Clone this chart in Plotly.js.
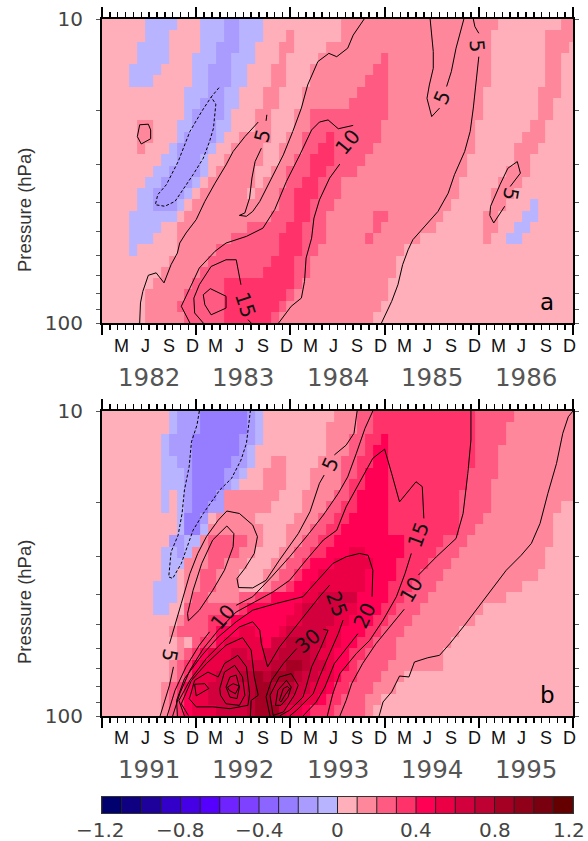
<!DOCTYPE html>
<html><head><meta charset="utf-8">
<script src="https://cdn.plot.ly/plotly-3.0.1.min.js"></script>
<style>html,body{margin:0;padding:0;background:#fff}</style></head>
<body><div id="chart" style="width:588px;height:841px"></div>
<script>
const binColors=['#00006e','#0f0082','#1e009b','#3200c8','#4600e6','#5500ff','#6e23ff','#7d41ff','#8c64ff','#967dff','#aa9bff','#b9b4ff','#ffafb9','#ff879b','#ff5a82','#ff3269','#ff0055','#eb0046','#d2003c','#be0032','#a50023','#910019','#78000f','#640000'];
const binEdges=[-1.2,-1.1,-1,-0.9,-0.8,-0.7,-0.6,-0.5,-0.4,-0.3,-0.2,-0.1,0,0.1,0.2,0.3,0.4,0.5,0.6,0.7,0.8,0.9,1,1.1,1.2];
const barTicks=[-1.2,-0.8,-0.4,0,0.4,0.8,1.2];
const barTickText=['\u22121.2','\u22120.8','\u22120.4','0','0.4','0.8','1.2'];
const pressureEdges=[10,10.89,11.86,12.92,14.07,15.33,16.68,18.17,19.79,21.56,23.48,25.57,27.85,30.34,33.04,35.98,39.19,42.68,46.48,50.62,55.13,60.04,65.39,71.22,77.56,84.47,92,100];
const pressureTicks=[10,20,30,40,50,60,70,80,90,100];
const pressureTickText=['10','','','','','','','','','100'];
const monthLabels=['M','J','S','D'];
const monthOffsets=[2.5,5.5,8.5,11.5];
const yearsA=['1982','1983','1984','1985','1986'];
const yearsB=['1991','1992','1993','1994','1995'];
// each row: bin:endColumn runs, bin n = value between (n-1)/10 and n/10, top row first
const fillA=[
"1:6 -1:10 1:13 -1:16 -2:18 -1:21 1:31 2:51 1:59 2:61",
"1:6 -1:9 1:13 -1:16 -2:18 -1:21 1:24 2:25 1:31 2:50 1:57 2:61",
"1:5 -1:9 1:13 -1:15 -2:18 -1:20 1:23 2:25 1:29 2:50 1:57 2:60 1:61",
"1:5 -1:9 1:12 -1:15 -2:17 -1:20 1:23 2:24 1:28 2:36 3:37 2:50 1:57 2:59 1:61",
"1:4 -1:8 1:12 -1:14 -2:17 -1:19 1:22 2:24 1:27 2:35 3:37 2:50 1:57 2:59 1:61",
"1:4 -1:7 1:12 -1:14 -2:17 -1:19 1:22 2:24 1:27 2:34 3:37 2:50 1:57 2:59 1:61",
"1:11 -1:14 -2:16 -1:18 1:21 2:23 1:26 2:33 3:37 2:49 1:56 2:59 1:61",
"1:11 -1:13 -2:16 -1:18 1:21 2:23 1:26 2:32 3:37 2:49 1:56 2:58 1:61",
"1:11 -1:12 -2:16 -1:17 1:20 2:22 1:25 2:27 3:37 2:49 1:56 2:58 1:61",
"1:5 2:7 1:10 -1:12 -2:15 -1:17 1:20 2:22 1:25 2:27 3:36 2:48 1:55 2:57 1:61",
"1:5 2:7 1:10 -1:11 -2:15 -1:16 1:18 2:22 1:24 2:26 3:29 4:30 3:36 2:48 1:54 2:57 1:61",
"1:5 2:6 1:9 -1:10 -2:14 -1:15 1:17 2:21 1:23 2:26 3:28 4:30 3:35 2:48 1:53 2:56 1:61",
"1:8 -1:10 -2:13 -1:14 1:16 2:21 1:23 2:25 3:27 4:30 3:34 2:47 1:53 2:55 1:61",
"1:7 -1:9 -2:13 -1:14 1:15 2:20 1:22 2:24 3:27 4:29 3:33 2:47 1:52 2:55 1:61",
"1:6 -1:8 -2:12 -1:13 1:14 2:20 1:21 2:24 3:26 4:28 3:31 2:46 1:51 2:54 1:61",
"1:5 -1:7 -2:11 -1:12 1:13 2:19 1:20 2:23 3:25 4:28 3:31 2:46 1:50 2:53 1:61",
"1:5 -1:7 -2:10 -1:11 1:12 2:23 3:25 4:27 3:30 2:45 1:50 2:52 1:55 -1:56 1:61",
"1:4 -1:10 1:11 2:22 3:25 4:27 3:29 2:35 3:37 2:44 1:49 2:51 1:54 -1:56 1:61",
"1:4 -1:8 1:10 2:19 3:24 4:26 3:29 2:35 3:36 2:43 1:49 2:51 1:53 -1:55 1:61",
"1:4 -1:7 1:10 2:17 3:23 4:26 3:29 2:34 3:35 2:41 1:49 2:50 1:52 -1:54 1:61",
"1:4 -1:5 1:10 2:15 3:23 4:26 3:28 2:39 1:61",
"1:9 2:14 3:22 4:25 3:27 2:38 1:61",
"1:8 2:13 3:21 4:25 3:27 2:38 1:61",
"1:7 2:12 3:16 4:25 3:26 2:37 1:61",
"1:6 2:11 3:16 4:24 3:25 2:37 1:61",
"1:6 2:10 3:16 4:23 3:24 2:36 1:61",
"1:6 2:11 3:16 4:22 3:23 2:35 1:61"];
const fillB=[
"1:9 -1:10 -2:13 -3:19 -2:20 -1:21 1:30 2:33 3:35 4:48 3:53 2:61",
"1:9 -1:10 -2:13 -3:19 -2:20 -1:21 1:29 2:33 3:35 4:48 3:52 2:61",
"1:8 -1:9 -2:12 -3:18 -2:20 -1:21 1:29 2:32 3:34 4:36 5:37 4:48 3:52 2:61",
"1:8 -1:9 -2:12 -3:18 -2:19 -1:20 1:29 2:32 3:34 4:35 5:37 4:48 3:51 2:61",
"1:8 -1:10 -2:12 -3:17 -2:19 -1:20 1:22 2:24 1:28 2:31 3:33 4:35 5:37 4:48 3:51 2:61",
"1:8 -1:11 -2:12 -3:16 -2:18 -1:19 1:21 2:24 1:27 2:31 3:33 4:34 5:37 4:47 3:51 2:61",
"1:8 -1:11 -2:12 -3:16 -2:17 -1:18 1:21 2:24 1:27 2:31 3:32 4:34 5:37 4:47 3:50 2:61",
"1:8 -1:9 1:10 -1:11 -2:12 -3:15 -2:16 2:23 1:26 2:30 3:32 4:33 5:37 4:46 3:50 2:61",
"1:8 -1:9 1:10 -1:11 -2:12 -3:14 -2:16 2:22 1:26 2:29 3:31 4:33 5:37 4:46 3:50 2:59 1:61",
"1:10 -1:11 -3:13 -2:14 1:15 2:20 1:25 2:28 3:30 4:32 5:37 4:46 3:49 2:58 1:61",
"1:10 -1:11 -3:13 -1:14 2:21 1:24 2:27 3:29 4:31 5:37 4:46 3:48 2:58 1:61",
"1:9 -2:11 -1:13 2:14 3:19 2:21 1:24 2:26 3:28 4:30 5:39 4:44 3:47 2:58 1:61",
"1:8 -1:10 -2:11 -1:12 2:14 3:18 2:20 1:23 2:25 3:27 4:29 5:32 6:34 5:39 4:43 3:46 2:57 1:61",
"1:8 -1:11 2:14 3:16 2:19 1:22 2:24 3:26 4:27 5:30 6:35 5:38 4:42 3:45 2:57 1:61",
"1:8 -1:10 1:11 2:13 3:15 2:18 1:21 2:23 3:25 4:26 5:28 6:34 5:38 4:41 3:44 2:56 1:61",
"1:7 -1:10 1:11 2:13 3:15 2:18 1:21 2:22 3:24 4:25 5:27 6:34 5:37 4:40 3:43 2:54 1:61",
"1:7 -1:10 1:11 2:12 3:14 2:18 3:20 4:22 5:26 6:28 7:33 5:37 4:39 3:42 2:52 1:61",
"1:7 -1:9 1:11 3:18 4:19 5:25 6:26 7:31 6:33 5:36 4:38 3:41 2:49 1:61",
"1:10 2:11 3:14 4:17 5:24 6:26 7:30 6:32 5:35 4:37 3:40 2:48 1:61",
"1:9 2:10 3:14 4:15 5:18 6:20 5:23 6:24 7:29 6:31 5:34 4:36 3:39 2:46 1:61",
"1:10 2:11 1:12 3:13 4:15 5:16 6:21 5:22 7:24 8:27 7:29 6:31 5:33 4:35 3:38 2:45 1:61",
"1:10 2:11 3:12 4:13 5:14 6:17 7:19 6:21 7:23 8:27 7:28 6:30 5:32 4:34 3:38 2:44 1:61",
"1:9 2:10 3:11 4:12 5:13 6:16 7:22 8:24 9:26 8:27 7:29 6:30 5:32 4:33 3:37 2:44 1:61",
"1:9 2:10 3:11 4:12 6:15 7:18 8:20 9:21 8:22 9:25 8:26 7:28 6:30 5:31 4:33 3:36 2:39 1:61",
"1:8 2:9 3:10 4:11 5:12 6:14 7:19 8:20 9:22 8:25 7:27 6:29 5:30 4:32 3:35 2:38 1:61",
"1:8 2:9 3:10 4:11 5:12 6:14 7:19 8:20 9:22 8:24 7:26 6:28 5:29 4:31 3:34 2:36 1:61",
"1:8 2:9 3:10 4:11 5:12 6:15 7:19 8:20 9:23 7:24 6:26 5:27 4:30 3:34 2:35 1:61"];
// contour lines: [months since start, log10 pressure]
const contoursA=[
[[4.8,2],[4.9,1.934],[5.2,1.896],[5.9,1.843],[6.9,1.835],[7.9,1.868],[8.8,1.808],[9.6,1.77],[9.9,1.737],[10.7,1.704],[12,1.66],[13.1,1.6],[14.4,1.54],[15.8,1.48],[16.7,1.436],[18.2,1.387],[19.9,1.339]],
[[21,1.315],[20.9,1.335]],
[[20.3,1.425],[19.5,1.469],[19.1,1.523],[18.8,1.589],[18.2,1.638],[17.5,1.646],[18.4,1.649],[19.2,1.633],[20.1,1.6],[21.4,1.534],[23.1,1.447],[24.3,1.37],[25.4,1.293],[26.2,1.217],[27.5,1.14],[28.9,1.113],[29.9,1.124],[31.3,1.096],[32,1.053],[33.4,1]],
[[41.8,1],[42,1.053],[42.2,1.107],[42.2,1.162],[41.7,1.217],[41.4,1.261],[42,1.321],[43,1.293]],
[[43.9,1.222],[44.5,1.173],[45.1,1.096],[46.1,1]],
[[47.3,1],[47.5,1.025],[48,1.047]],
[[48,1.124],[47.7,1.206],[47.3,1.293],[46.9,1.37],[46.2,1.436],[44.9,1.512],[44.1,1.573],[42.8,1.633],[40.9,1.688],[39.6,1.726],[39,1.759],[38.3,1.808],[37.7,1.874],[36.9,1.929],[35.6,2]],
[[4.5,1.387],[4.8,1.348],[5.9,1.346],[6.2,1.365],[6.2,1.394],[5,1.411],[4.5,1.387]],
[[11.2,2],[10.1,1.945],[11.2,1.885],[12.4,1.819],[14.4,1.764],[15.8,1.737],[18.4,1.715],[20.5,1.688],[22,1.627],[23.5,1.534],[25.2,1.447],[26.7,1.365],[27.7,1.339],[28.8,1.332],[30.1,1.361],[32,1.35]],
[[30.3,1.477],[29,1.523],[27.7,1.595],[27,1.655],[26.7,1.721],[26,1.786],[25.8,1.863],[25.4,1.918],[24.1,1.945],[22.5,2]],
[[17.7,1.874],[17.1,1.792],[15.8,1.792],[13.9,1.814],[12.4,1.874],[11.7,1.918],[11.8,1.967],[12.9,2]],
[[18.6,1.989],[19,2]],
[[12.9,1.907],[13.8,1.887],[15.8,1.912],[15.8,1.951],[13.9,1.973],[13.1,1.94],[12.9,1.907]],
[[51.3,1.616],[49.9,1.671],[49.4,1.646],[49.5,1.616],[50.7,1.545],[51.7,1.491],[52.9,1.469],[53.3,1.507],[52,1.551]]];
const negativeA=[[[14.9,1.226],[13.9,1.257],[14.5,1.28],[14.2,1.359],[13.7,1.403],[12.9,1.458],[11.6,1.512],[10.1,1.567],[9.3,1.6],[8,1.616],[6.8,1.611],[7.1,1.578],[8.2,1.545],[9.7,1.469],[11.2,1.37],[12.7,1.304],[13.9,1.257]]];
const contoursB=[
[[60,1],[59.4,1.019],[58.7,1.073],[57.9,1.172],[56.8,1.27],[55.8,1.369],[54.7,1.434],[53.4,1.473],[51.5,1.522],[49.6,1.588],[47.7,1.653],[46.2,1.702],[44.3,1.763],[43,1.801],[41.5,1.809],[39.8,1.823],[39.1,1.872],[37.9,1.869],[36.9,1.921],[35.8,1.954],[35.3,2]],
[[7.4,2],[8,1.949],[8.6,1.899],[9.1,1.839]],
[[8.6,1.763],[9.3,1.697],[10.1,1.631],[11.2,1.533],[12.2,1.467],[13.3,1.412],[14.8,1.358],[15.9,1.328],[17.5,1.336],[19.2,1.374],[19.8,1.412],[19.4,1.467],[18.2,1.516],[17.2,1.549],[17.4,1.579],[19.2,1.58],[20.9,1.555],[22.6,1.489],[25,1.402],[26.5,1.33],[27.7,1.237],[28.3,1.21]],
[[29.6,1.144],[31.1,1.112],[32.1,1.073],[32.5,1]],
[[11,1.688],[10.9,1.664],[11.6,1.588],[12.7,1.5],[14.1,1.423],[15.9,1.377],[16.8,1.402],[16.7,1.445],[15.6,1.522],[14.1,1.588],[12.4,1.653],[11,1.688]],
[[8.3,2],[9.3,1.916],[10.7,1.839],[12.4,1.768],[13.7,1.724]],
[[17.1,1.637],[19.2,1.609],[21.6,1.544],[23.9,1.478],[26.2,1.407],[28.2,1.341],[30.1,1.27],[31.3,1.216],[32.4,1.139],[33.5,1.057],[34.5,1]],
[[40.3,1.538],[42.6,1.478],[45.1,1.418],[46,1.336],[46.6,1.205],[47,1.095],[47,1]],
[[38.5,1.65],[36.6,1.708],[34.9,1.763],[33.2,1.828],[31.8,1.894],[31.1,1.949],[30.3,2]],
[[41,1.352],[40.8,1.248],[40,1.232],[37.9,1.298],[36.9,1.205],[36,1.125],[34.5,1.155],[32.8,1.237],[31.1,1.314],[29.9,1.391],[28.2,1.423],[26,1.489],[23.9,1.555],[21.8,1.593],[19.2,1.631],[17.1,1.659],[14.8,1.719],[12.9,1.779],[11.2,1.85],[9.9,1.927],[9,2]],
[[39.4,1.467],[38.6,1.533],[37.5,1.609],[35.8,1.686],[34.1,1.752],[32.4,1.795],[30.3,1.861],[29.4,1.927],[28.7,2]],
[[34.4,1.609],[34.5,1.522],[33.9,1.473],[32.8,1.467],[31.1,1.478],[29.4,1.5],[27.3,1.56],[25.6,1.609],[22.2,1.631],[19.2,1.653],[17.1,1.691],[14.8,1.741],[12.7,1.802],[10.5,1.878],[9.5,1.949],[9.6,2]],
[[32.6,1.73],[31.1,1.779],[29.6,1.828],[28.4,1.905],[27.3,1.954],[25.6,2]],
[[29,1.571],[27.7,1.609],[26,1.664],[24.3,1.719],[22.6,1.774],[21.1,1.839],[20.3,1.763],[20.1,1.719],[19.2,1.691],[17.5,1.708],[15.4,1.757],[13.3,1.811],[11.2,1.883],[9.8,1.949],[10.5,2]],
[[30.7,1.686],[30.1,1.73],[28.8,1.806],[27.7,1.872],[26.9,1.927],[24.8,1.981],[23.9,2]],
[[11,1.998],[10.1,1.96],[11.4,1.883],[13.3,1.828],[15.8,1.768],[17.9,1.743],[19,1.784],[19.4,1.872],[19.9,1.932],[19,1.949],[18.9,2]],
[[28.2,1.716],[28.8,1.719],[27.9,1.774],[26.7,1.839],[26,1.905],[25.6,1.938],[23.9,1.981],[22.6,2]],
[[24.8,1.779],[23.1,1.828],[21.6,1.883],[20.9,1.937],[21.4,2]],
[[21.8,1.998],[21.4,1.932],[22.6,1.872],[24.1,1.861],[25,1.899],[24.5,1.932],[23.1,1.987],[21.8,1.998]],
[[22.1,1.965],[22.4,1.916],[23.5,1.883],[24.1,1.905],[23.7,1.938],[22.8,1.965],[22.1,1.965]],
[[22.6,1.949],[23.1,1.91],[23.6,1.903],[23.9,1.91],[23.3,1.932],[22.8,1.954],[22.6,1.949]],
[[11.2,1.938],[11.8,1.883],[13.5,1.856],[14.8,1.872],[15.6,1.828],[17.3,1.801],[18.4,1.839],[18.8,1.927],[18.6,1.965],[16.3,1.976],[14.1,1.97],[12,1.97],[11.1,1.943],[11.2,1.938]],
[[15,1.91],[15.6,1.856],[16.9,1.834],[17.9,1.872],[18.2,1.932],[17.5,1.965],[15.8,1.96],[15.1,1.932],[15,1.91]],
[[15.8,1.905],[16.3,1.872],[17.1,1.866],[17.5,1.905],[17.2,1.943],[16.3,1.938],[15.8,1.905]],
[[16,1.905],[16.7,1.894],[17.5,1.902],[17,1.927],[16.2,1.916],[16,1.905]],
[[11.8,1.896],[13.1,1.894],[13.6,1.91],[12,1.934],[11.8,1.896]]];
const negativeB=[
[[12.4,1],[12.1,1.046],[11.4,1.101],[11.1,1.183],[10.5,1.259],[10.2,1.336],[9.7,1.407],[8.8,1.462],[8.5,1.544],[9,1.549],[10.1,1.5],[11.6,1.391],[12.9,1.336],[15,1.259],[16.5,1.221],[17.7,1.161],[18.4,1.106],[18.7,1.051],[18.9,1]]];
// contour labels: month, log10 pressure, text, angle
const labelsA=[[20.5,1.383,'5',-75],[31.3,1.405,'10',-50],[18.3,1.94,'15',72],[47.8,1.088,'5',85],[43.4,1.258,'5',-65],[52.1,1.578,'5',100]];
const labelsB=[[29.1,1.174,'5',-65],[8.6,1.801,'5',100],[15.4,1.675,'10',-50],[40.3,1.407,'15',-70],[39.4,1.588,'10',-60],[29.9,1.633,'25',70],[33.5,1.67,'20',-65],[26.2,1.754,'30',-40]];

const months=[];for(let i=0;i<=61;i++)months.push(i-0.5);
const colorscale=[];binColors.forEach((c,i)=>{colorscale.push([i/24,c]);colorscale.push([(i+1)/24,c]);});
function expand(rows){return rows.map(r=>{const out=[];r.split(' ').forEach(t=>{const [n,e]=t.split(':').map(Number);const v=n>0?n/10-0.05:n/10+0.05;while(out.length<e)out.push(v);});return out;});}
function heat(rows,xa,ya){return {type:'heatmap',x:months,y:pressureEdges,z:expand(rows),zmin:-1.2,zmax:1.2,colorscale,showscale:false,zsmooth:false,xaxis:xa,yaxis:ya,hoverinfo:'skip'};}
function lines(list,xa,ya,dash){return list.map(l=>({type:'scatter',mode:'lines',x:l.map(p=>p[0]),y:l.map(p=>Math.pow(10,p[1])),line:{color:'#000',width:1,dash:dash},xaxis:xa,yaxis:ya,hoverinfo:'skip',showlegend:false}));}
const sepX=[],sepY=[];binEdges.forEach(e=>{sepX.push(e,e,null);sepY.push(0,1,null);});
const traces=[heat(fillA,'x','y'),...lines(contoursA,'x','y','solid'),...lines(negativeA,'x','y','3px,2px'),
 heat(fillB,'x2','y2'),...lines(contoursB,'x2','y2','solid'),...lines(negativeB,'x2','y2','3px,2px'),
 {type:'heatmap',x:binEdges,y:[0,1],z:[binEdges.slice(0,24).map(v=>v+0.05)],zmin:-1.2,zmax:1.2,colorscale,showscale:false,xaxis:'x3',yaxis:'y3',hoverinfo:'skip'},
 {type:'scatter',mode:'lines',x:sepX,y:sepY,line:{color:'#222',width:1},xaxis:'x3',yaxis:'y3',hoverinfo:'skip',showlegend:false}];

const W=588,H=841;
const px=(a,b)=>[a/W,b/W],py=(t,b)=>[1-b/H,1-t/H];
function xax(anchor,dom){return {domain:dom,anchor:anchor,range:[0,60],showgrid:false,zeroline:false,showline:true,linewidth:2,linecolor:'#000',mirror:'ticks',ticks:'outside',tick0:0,dtick:12,ticklen:10,tickwidth:2,tickcolor:'#000',showticklabels:false,minor:{ticks:'outside',dtick:1,tick0:0,ticklen:5,tickwidth:1.5,tickcolor:'#000',showgrid:false}};}
function yax(anchor,dom){return {domain:dom,anchor:anchor,type:'log',range:[2,1],showgrid:false,zeroline:false,showline:true,linewidth:2,linecolor:'#000',mirror:'ticks',ticks:'outside',ticklen:4,tickwidth:1,tickcolor:'#555',tickmode:'array',tickvals:pressureTicks,ticktext:pressureTickText,ticklabelstandoff:9,tickfont:{family:'DejaVu Sans',size:20,color:'#444'}};}
const ann=[];
function decor(xr,yr,years,letter,labels,monthY,yearY,titleY){
 years.forEach((y,i)=>{
  monthOffsets.forEach((o,j)=>ann.push({xref:xr,yref:'paper',x:i*12+o,y:1-monthY/H,text:monthLabels[j],showarrow:false,yanchor:'middle',font:{family:'Liberation Sans',size:18,color:'#111'}}));
  ann.push({xref:xr,yref:'paper',x:i*12+6,y:1-yearY/H,text:y,showarrow:false,yanchor:'middle',font:{family:'DejaVu Sans',size:24.5,color:'#555'}});
 });
 labels.forEach(l=>ann.push({xref:xr,yref:yr,x:l[0],y:l[1],text:l[2],textangle:l[3],showarrow:false,font:{family:'DejaVu Sans',size:20,color:'#111'}}));
 ann.push({xref:xr,yref:yr,x:56.7,y:letter[1],text:letter[0],showarrow:false,font:{family:'DejaVu Sans',size:23,color:'#000'}});
 ann.push({xref:'paper',yref:'paper',x:24/W,y:1-titleY/H,xanchor:'center',yanchor:'middle',text:'Pressure (hPa)',textangle:-90,showarrow:false,font:{family:'Liberation Sans',size:18.5,color:'#333'}});
}
decor('x','y',yearsA,['a',1.93],labelsA,346,377,210);
decor('x2','y2',yearsB,['b',1.93],labelsB,738,769,602);
barTicks.forEach((t,i)=>ann.push({xref:'x3',yref:'paper',x:t,y:1-830/H,text:barTickText[i],showarrow:false,yanchor:'middle',xshift:i===6?-4:(i===0?-2:0),font:{family:'DejaVu Sans',size:20,color:'#444'}}));
const layout={width:W,height:H,margin:{l:0,r:0,t:0,b:0},paper_bgcolor:'#fff',plot_bgcolor:'#fff',showlegend:false,annotations:ann,
 xaxis:xax('y',px(102,573)),yaxis:yax('x',py(19,323)),
 xaxis2:xax('y2',px(102,573)),yaxis2:yax('x2',py(411,716)),
 xaxis3:{domain:px(102,573),anchor:'y3',range:[-1.2,1.2],showgrid:false,zeroline:false,showline:true,linewidth:1,linecolor:'#333',mirror:true,ticks:'',showticklabels:false},
 yaxis3:{domain:py(797,813),anchor:'x3',range:[0,1],showgrid:false,zeroline:false,showline:true,linewidth:1,linecolor:'#333',mirror:true,ticks:'',showticklabels:false}};
Plotly.newPlot('chart',traces,layout,{displayModeBar:false,staticPlot:true});
</script></body></html>
